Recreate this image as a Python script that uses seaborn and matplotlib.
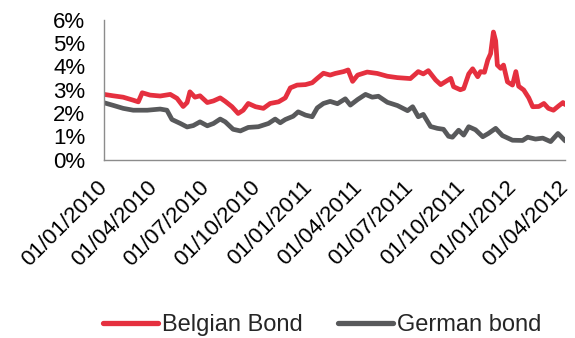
import matplotlib
matplotlib.use("Agg")
import matplotlib.pyplot as plt
import matplotlib.dates as mdates
from matplotlib.ticker import FuncFormatter, MultipleLocator
import pandas as pd
import seaborn as sns

# 10-year government bond yields (%)
belgian_dates = [
    "2010-01-01", "2010-01-17", "2010-02-04", "2010-02-22", "2010-03-03", "2010-03-10",
    "2010-03-24", "2010-04-11", "2010-04-29", "2010-05-11", "2010-05-22", "2010-05-29",
    "2010-06-03", "2010-06-12", "2010-06-21", "2010-07-04", "2010-07-15", "2010-07-27",
    "2010-08-05", "2010-08-17", "2010-08-28", "2010-09-06", "2010-09-15", "2010-09-28",
    "2010-10-12", "2010-10-24", "2010-11-08", "2010-11-20", "2010-11-29", "2010-12-11",
    "2010-12-26", "2011-01-07", "2011-01-16", "2011-01-27", "2011-02-08", "2011-02-17",
    "2011-03-04", "2011-03-12", "2011-03-20", "2011-03-29", "2011-04-15", "2011-05-03",
    "2011-05-21", "2011-06-08", "2011-07-01", "2011-07-15", "2011-07-24", "2011-08-02",
    "2011-08-15", "2011-08-24", "2011-09-05", "2011-09-11", "2011-09-16", "2011-09-28",
    "2011-10-04", "2011-10-13", "2011-10-20", "2011-10-29", "2011-11-03", "2011-11-10",
    "2011-11-16", "2011-11-21", "2011-11-26", "2011-11-30", "2011-12-03", "2011-12-09",
    "2011-12-14", "2011-12-21", "2011-12-30", "2012-01-05", "2012-01-10", "2012-01-19",
    "2012-01-28", "2012-02-04", "2012-02-15", "2012-02-24", "2012-03-03", "2012-03-12",
    "2012-03-21", "2012-03-29", "2012-04-02",
]
belgian_yield = [
    2.80, 2.74, 2.68, 2.55, 2.48, 2.87,
    2.77, 2.73, 2.80, 2.63, 2.28, 2.45,
    2.91, 2.68, 2.74, 2.45, 2.52, 2.65,
    2.50, 2.27, 1.98, 2.12, 2.41, 2.27,
    2.20, 2.41, 2.48, 2.65, 3.08, 3.20,
    3.22, 3.30, 3.49, 3.71, 3.63, 3.70,
    3.78, 3.85, 3.36, 3.63, 3.76, 3.70,
    3.58, 3.52, 3.48, 3.78, 3.68, 3.82,
    3.42, 3.22, 3.40, 3.49, 3.13, 3.00,
    3.05, 3.68, 3.90, 3.56, 3.78, 3.75,
    4.28, 4.55, 5.48, 5.10, 4.06, 3.92,
    4.06, 3.34, 3.20, 3.78, 3.15, 2.99,
    2.65, 2.27, 2.28, 2.41, 2.20, 2.12,
    2.30, 2.45, 2.36,
]

german_dates = [
    "2010-01-01", "2010-01-17", "2010-02-04", "2010-02-22", "2010-03-19", "2010-04-11",
    "2010-04-23", "2010-05-02", "2010-05-17", "2010-05-29", "2010-06-09", "2010-06-21",
    "2010-07-04", "2010-07-15", "2010-07-27", "2010-08-05", "2010-08-19", "2010-09-01",
    "2010-09-15", "2010-10-03", "2010-10-21", "2010-11-02", "2010-11-11", "2010-11-20",
    "2010-12-04", "2010-12-13", "2010-12-26", "2011-01-07", "2011-01-16", "2011-01-27",
    "2011-02-08", "2011-02-21", "2011-03-07", "2011-03-16", "2011-03-29", "2011-04-12",
    "2011-04-24", "2011-05-05", "2011-05-21", "2011-06-08", "2011-06-26", "2011-07-05",
    "2011-07-15", "2011-07-24", "2011-08-06", "2011-08-18", "2011-08-29", "2011-09-07",
    "2011-09-14", "2011-09-25", "2011-10-04", "2011-10-13", "2011-10-25", "2011-11-07",
    "2011-11-17", "2011-11-30", "2011-12-12", "2011-12-30", "2012-01-17", "2012-01-26",
    "2012-02-09", "2012-02-22", "2012-03-07", "2012-03-20", "2012-03-27", "2012-04-02",
]
german_yield = [
    2.44, 2.33, 2.20, 2.12, 2.12, 2.17,
    2.12, 1.72, 1.55, 1.40, 1.46, 1.62,
    1.45, 1.55, 1.74, 1.62, 1.30, 1.23,
    1.38, 1.41, 1.55, 1.74, 1.58, 1.72,
    1.86, 2.05, 1.91, 1.84, 2.22, 2.41,
    2.50, 2.40, 2.61, 2.34, 2.58, 2.80,
    2.68, 2.72, 2.46, 2.32, 2.10, 2.27,
    1.84, 1.94, 1.42, 1.34, 1.30, 1.00,
    0.96, 1.26, 1.05, 1.41, 1.28, 0.98,
    1.12, 1.34, 1.03, 0.83, 0.82, 0.96,
    0.88, 0.92, 0.77, 1.12, 0.95, 0.80,
]

tick_dates = [
    "2010-01-01", "2010-04-01", "2010-07-01", "2010-10-01", "2011-01-01",
    "2011-04-01", "2011-07-01", "2011-10-01", "2012-01-01", "2012-04-01",
]

red = "#E5303F"
grey = "#58595B"
axis_grey = "#8C8C8C"

belgian = pd.DataFrame({"date": pd.to_datetime(belgian_dates), "yield": belgian_yield})
german = pd.DataFrame({"date": pd.to_datetime(german_dates), "yield": german_yield})

sns.set_theme(style="white")
plt.rcParams["font.family"] = ["Liberation Sans", "DejaVu Sans"]

fig = plt.figure(figsize=(5.75, 3.38), dpi=100)
ax = fig.add_axes([0.181, 0.528, 0.802, 0.413])

sns.lineplot(data=belgian, x="date", y="yield", ax=ax, color=red, lw=3.4,
             label="Belgian Bond")
sns.lineplot(data=german, x="date", y="yield", ax=ax, color=grey, lw=3.4,
             label="German bond")

ax.set_ylim(0, 6)
ax.yaxis.set_major_locator(MultipleLocator(1))
ax.yaxis.set_major_formatter(FuncFormatter(lambda v, _: f"{v:.0f}%"))
ax.set_xlim(pd.Timestamp("2010-01-01"), pd.Timestamp("2012-04-02"))
ax.set_xticks(pd.to_datetime(tick_dates))
ax.xaxis.set_major_formatter(mdates.DateFormatter("%d/%m/%Y"))
ax.set_xlabel("")
ax.set_ylabel("")

for side in ("top", "right"):
    ax.spines[side].set_visible(False)
for side in ("left", "bottom"):
    ax.spines[side].set_color(axis_grey)
    ax.spines[side].set_linewidth(1.0)

ax.tick_params(axis="both", which="major", direction="out", width=1,
               color=axis_grey, labelcolor="black")
ax.tick_params(axis="y", labelsize=16, length=5.5, pad=8)
ax.tick_params(axis="x", labelsize=16, length=5, pad=13)
for lab in ax.get_xticklabels():
    lab.set_rotation(45)
    lab.set_ha("right")
    lab.set_va("center")
    lab.set_rotation_mode("anchor")

ax.get_legend().remove()
handles, labels = ax.get_legend_handles_labels()
leg = fig.legend(handles, labels, loc="center", bbox_to_anchor=(0.561, 0.038),
                 ncol=2, frameon=False, fontsize=17, handlelength=2.3,
                 handletextpad=0.2, columnspacing=1.5)
for line in leg.get_lines():
    line.set_linewidth(3.8)

fig.savefig("out.png", dpi=100)
